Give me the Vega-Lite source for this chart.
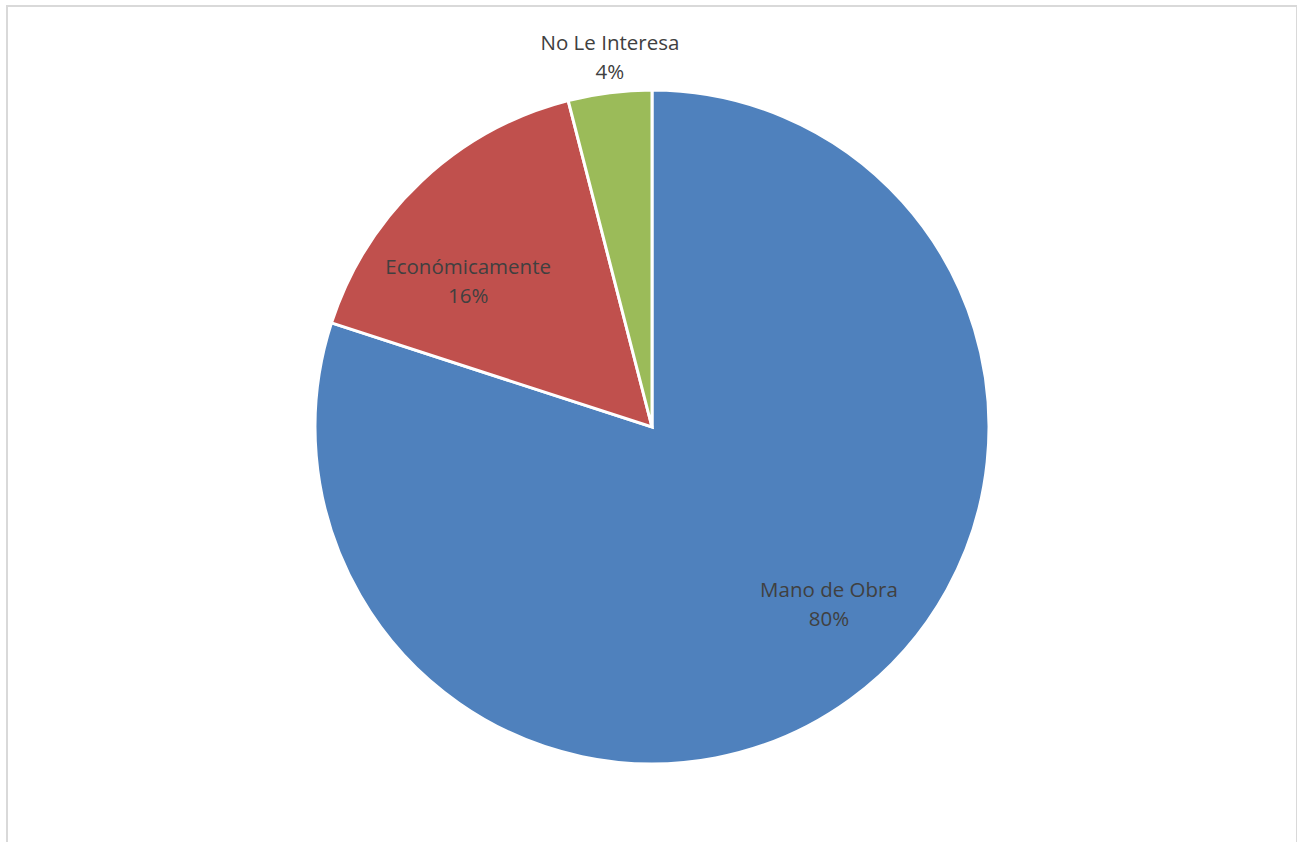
{
  "$schema": "https://vega.github.io/schema/vega-lite/v6.json",
  "width": 1290,
  "height": 842,
  "padding": {"left": 7, "top": 6, "right": 0, "bottom": 0},
  "view": {"stroke": "#D9D9D9", "strokeWidth": 2},
  "config": {"view": {"stroke": "#D9D9D9", "strokeWidth": 2}},
  "data": {"values": [
    {"categoria": "Mano de Obra", "valor": 0.80, "orden": 1},
    {"categoria": "Económicamente", "valor": 0.16, "orden": 2},
    {"categoria": "No Le Interesa", "valor": 0.04, "orden": 3}
  ]},
  "encoding": {
    "theta": {"field": "valor", "type": "quantitative", "stack": true},
    "order": {"field": "orden", "type": "quantitative"}
  },
  "layer": [
    {
      "mark": {"type": "arc", "outerRadius": 337, "stroke": "white", "strokeWidth": 3},
      "encoding": {
        "color": {"field": "categoria", "type": "nominal",
          "scale": {"domain": ["Mano de Obra", "Económicamente", "No Le Interesa"], "range": ["#4F81BD", "#C0504D", "#9BBB59"]},
          "legend": null}
      }
    },
    {
      "mark": {"type": "text", "radius": 251, "thetaOffset": -0.154, "dy": -14.5, "fontSize": 20.5, "font": "Open Sans", "fill": "#404040"},
      "encoding": {"text": {"condition": {"test": "datum.categoria === 'Mano de Obra'", "field": "categoria"}, "value": ""}}
    },
    {
      "mark": {"type": "text", "radius": 251, "thetaOffset": -0.154, "dy": 14.5, "fontSize": 20.5, "font": "Open Sans", "fill": "#404040"},
      "encoding": {"text": {"condition": {"test": "datum.categoria === 'Mano de Obra'", "field": "valor", "format": ".0%"}, "value": ""}}
    },
    {
      "mark": {"type": "text", "radius": 234, "thetaOffset": -0.15, "dy": -14.5, "fontSize": 20.5, "font": "Open Sans", "fill": "#404040"},
      "encoding": {"text": {"condition": {"test": "datum.categoria === 'Económicamente'", "field": "categoria"}, "value": ""}}
    },
    {
      "mark": {"type": "text", "radius": 234, "thetaOffset": -0.15, "dy": 14.5, "fontSize": 20.5, "font": "Open Sans", "fill": "#404040"},
      "encoding": {"text": {"condition": {"test": "datum.categoria === 'Económicamente'", "field": "valor", "format": ".0%"}, "value": ""}}
    },
    {
      "mark": {"type": "text", "radius": 371, "thetaOffset": 0.012, "dy": -14.5, "fontSize": 20.5, "font": "Open Sans", "fill": "#404040"},
      "encoding": {"text": {"condition": {"test": "datum.categoria === 'No Le Interesa'", "field": "categoria"}, "value": ""}}
    },
    {
      "mark": {"type": "text", "radius": 371, "thetaOffset": 0.012, "dy": 14.5, "fontSize": 20.5, "font": "Open Sans", "fill": "#404040"},
      "encoding": {"text": {"condition": {"test": "datum.categoria === 'No Le Interesa'", "field": "valor", "format": ".0%"}, "value": ""}}
    }
  ]
}
